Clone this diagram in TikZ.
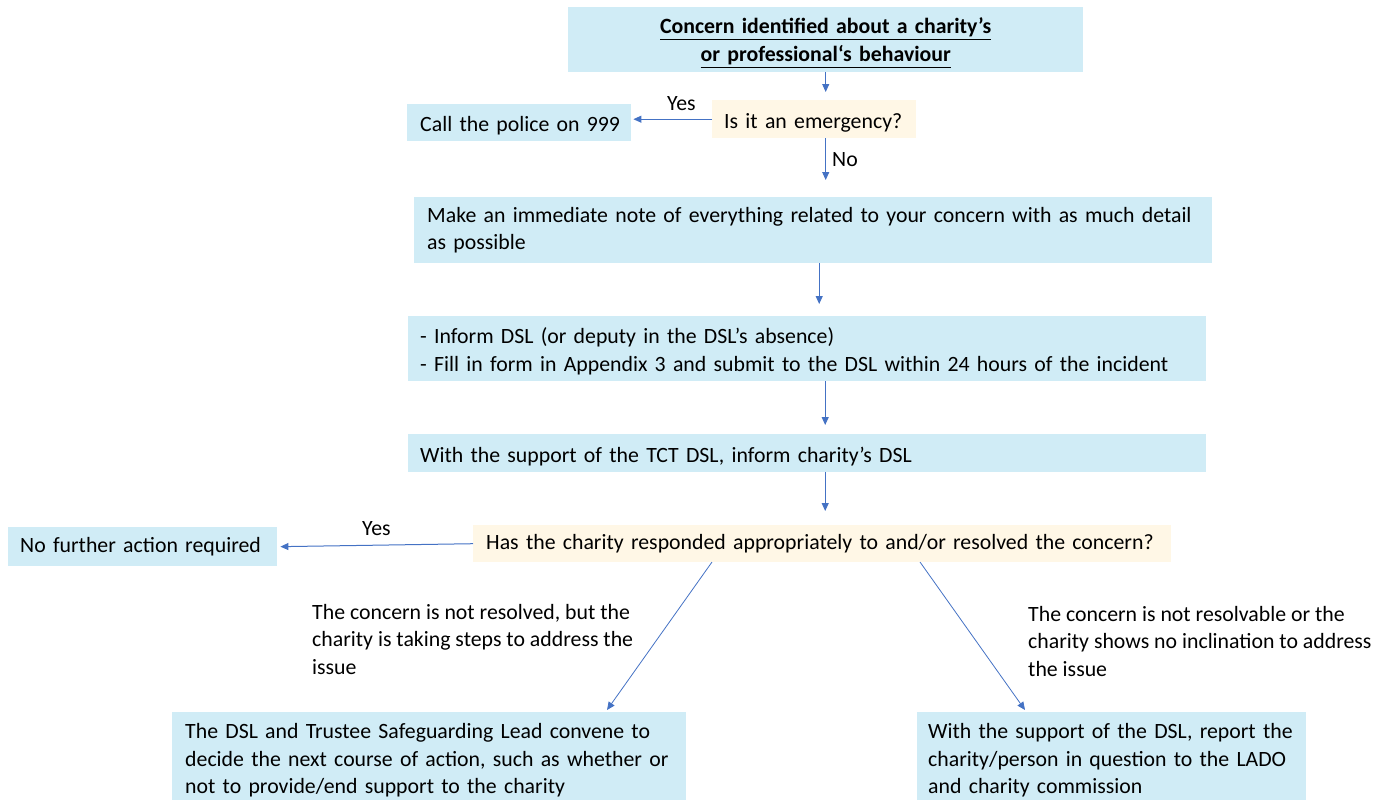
\documentclass[tikz,border=0pt]{standalone}
\usepackage{fontspec}
\setmainfont{Carlito}
\usetikzlibrary{arrows.meta}
\definecolor{boxblue}{HTML}{D0ECF6}
\definecolor{boxyel}{HTML}{FFF7E6}
\definecolor{arr}{HTML}{4472C4}
\definecolor{thinarr}{HTML}{6A95D8}
\begin{document}
\begin{tikzpicture}[x=1pt,y=-1pt,
  font=\fontsize{21.8}{27.5}\selectfont,
  bbox/.style={fill=boxblue, draw=none, inner ysep=0pt, anchor=north west, align=left},
  ybox/.style={fill=boxyel, draw=none, inner ysep=0pt, anchor=north west, align=left},
  conn/.style={draw=arr, line width=1pt, -{Triangle[length=8pt,width=7pt]}},
  thin/.style={draw=thinarr, line width=0.8pt, -{Triangle[length=8pt,width=7pt]}, color=arr},
  lbl/.style={inner sep=0pt, anchor=base west, align=left}]
\useasboundingbox (0,0) rectangle (1395,801);

\node[bbox, align=center, inner xsep=0pt, text width=515pt, minimum width=515pt, minimum height=65pt, font=\fontsize{21.8}{28}\selectfont]
  (top) at (568,7) {\rule{0pt}{22pt}\textbf{\underline{Concern identified about a charity’s}}\\\textbf{\underline{or professional‘s behaviour}}};
\node[ybox, inner xsep=12pt, text width=180pt, minimum width=204pt, minimum height=38pt, text height=20pt, text depth=2pt]
  (emerg) at (712,100) {Is it an emergency?};
\node[bbox, inner xsep=13pt, text width=198pt, minimum width=224pt, minimum height=37pt, text height=20pt, text depth=2pt]
  (police) at (407,104) {\mbox{Call the police on 999}};
\node[bbox, inner xsep=13pt, text width=772pt, minimum width=798pt, minimum height=66pt]
  (note) at (414,197) {\mbox{Make an immediate note of everything related to your concern with as much detail}\\as possible};
\node[bbox, inner xsep=12pt, text width=774pt, minimum width=798pt, minimum height=65pt]
  (inform) at (408,316) {\rule{0pt}{21pt}- Inform DSL (or deputy in the DSL’s absence)\\\mbox{- Fill in form in Appendix 3 and submit to the DSL within 24 hours of the incident}};
\node[bbox, inner xsep=12pt, text width=774pt, minimum width=798pt, minimum height=38pt, text height=20pt, text depth=2pt]
  (support) at (408,434) {With the support of the TCT DSL, inform charity’s DSL};
\node[ybox, inner xsep=13pt, text width=672pt, minimum width=698pt, minimum height=37pt, text depth=3pt]
  (has) at (473,525) {\mbox{Has the charity responded appropriately to and/or resolved the concern?}};
\node[bbox, inner xsep=12pt, text width=245pt, minimum width=269pt, minimum height=39pt, text depth=3pt]
  (nfa) at (8,527) {\mbox{No further action required}};
\node[bbox, inner xsep=13pt, text width=488pt, minimum width=514pt, minimum height=88pt]
  (bl) at (172,712) {\rule{0pt}{24pt}The DSL and Trustee Safeguarding Lead convene to\\\mbox{decide the next course of action, such as whether or}\\not to provide/end support to the charity};
\node[bbox, inner xsep=11pt, text width=367pt, minimum width=389pt, minimum height=88pt]
  (br) at (917,712) {\rule{0pt}{24pt}\mbox{With the support of the DSL, report the}\\\mbox{charity/person in question to the LADO}\\and charity commission};

\node[lbl] (yes1) at (667,110) {Yes};
\node[lbl] (no1) at (832,166) {No};
\node[lbl] (yes2) at (362,535) {Yes};
\node[lbl, anchor=north west] (tl) at (312,604) {The concern is not resolved, but the\\charity is taking steps to address the\\issue};
\node[lbl, anchor=north west] (tr) at (1028,606) {The concern is not resolvable or the\\\mbox{charity shows no inclination to address}\\the issue};

\coordinate (d1s) at (712,562);
\coordinate (d1e) at (607,710);
\coordinate (d2s) at (920,562);
\coordinate (d2e) at (1025,710);

\draw[conn, shorten >=8pt] (top.south) -- (top.south |- emerg.north);
\draw[conn, shorten >=2pt] (emerg.west) -- (emerg.west -| police.east);
\draw[conn, shorten >=17pt] (top.south |- emerg.south) -- (top.south |- note.north);
\draw[conn, shorten >=12pt] ([xshift=6pt]note.south) -- ([xshift=6pt]note.south |- inform.north);
\draw[conn, shorten >=9pt] ([xshift=18pt]inform.south) -- ([xshift=18pt]inform.south |- support.north);
\draw[conn, shorten >=14pt] ([xshift=18pt]support.south) -- ([xshift=18pt]support.south |- has.north);
\draw[conn, shorten >=3pt] (has.west) -- (nfa.east);
\draw[thin] (d1s) -- (d1e);
\draw[thin] (d2s) -- (d2e);
\end{tikzpicture}
\end{document}
